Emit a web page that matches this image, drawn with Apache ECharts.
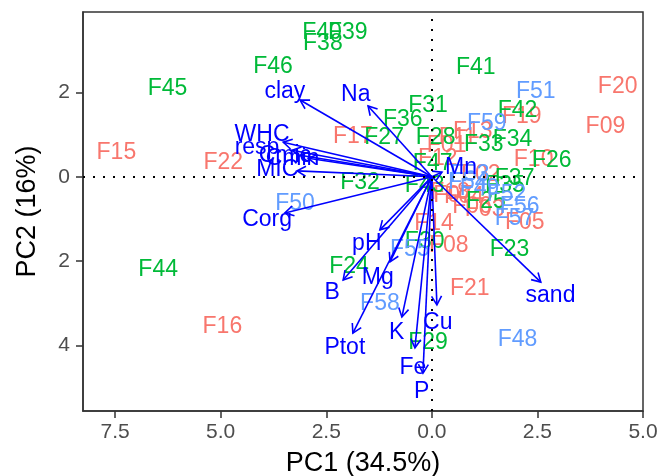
<!DOCTYPE html>
<html>
<head>
<meta charset="utf-8">
<script src="https://cdn.jsdelivr.net/npm/echarts@6/dist/echarts.min.js"></script>
<style>
  html, body { margin: 0; padding: 0; background: #fff; }
  #chart { width: 672px; height: 476px; }
</style>
</head>
<body>
<div id="chart"></div>
<script>
// sample scores (PC1, PC2), one group per colour
var redNames = ['F20','F09','F15','F22','F17','F19','F16','F21','F14','F08','F11','F01','F13','F10','F12','F02','F04','F06','F03','F05','F07','F18'];
var redX = [4.40, 4.11, -7.47, -4.94, -1.87, 2.13, -4.96, 0.90, 0.05, 0.40, 0.61, 0.35, 0.97, 2.41, 0.14, 1.16, 0.76, 0.95, 1.25, 2.20, 0.50, 0.43];
var redY = [2.13, 1.20, 0.56, 0.33, 0.94, 1.42, -3.57, -2.66, -1.12, -1.64, 0.92, 0.73, 1.06, 0.40, 0.42, 0.06, -0.48, -0.70, -0.77, -1.10, -0.44, -0.37];

var greenNames = ['F45','F40','F38','F39','F46','F41','F31','F36','F27','F28','F42','F34','F33','F26','F37','F32','F24','F23','F29','F30','F47','F43','F35','F25','F44'];
var greenX = [-6.26, -2.60, -2.58, -1.99, -3.76, 1.04, -0.09, -0.69, -1.13, 0.09, 2.03, 1.91, 1.23, 2.84, 1.96, -1.70, -1.96, 1.84, -0.09, -0.17, 0.02, -0.17, 1.73, 1.28, -6.48];
var greenY = [2.08, 3.41, 3.17, 3.43, 2.62, 2.60, 1.68, 1.35, 0.92, 0.92, 1.56, 0.87, 0.75, 0.37, -0.05, -0.15, -2.14, -1.72, -3.94, -1.53, 0.30, -0.22, -0.20, -0.58, -2.21];

var blueNames = ['F51','F59','F50','F55','F58','F48','F56','F57','F52','F53','F54','F49'];
var blueX = [2.46, 1.30, -3.24, -0.52, -1.23, 2.03, 2.08, 1.96, 1.77, 0.90, 0.85, 1.13];
var blueY = [2.03, 1.25, -0.65, -1.72, -3.02, -3.87, -0.72, -1.00, -0.42, 0.04, -0.15, -0.29];

// variable loadings: arrow tips and label positions
var varNames = ['clay','Na','WHC','resp','Cmic','Cmin','MIC','Corg','pH','B','Mg','Ptot','K','Fe','P','Cu','sand','Mn'];
var varTipX = [-3.12, -1.51, -3.52, -3.31, -3.12, -2.93, -3.19, -3.48, -1.23, -2.10, -0.99, -1.87, -0.71, -0.40, -0.21, 0.12, 2.58, 0.24];
var varTipY = [1.82, 1.68, 0.82, 0.63, 0.51, 0.44, 0.14, -0.86, -1.26, -2.45, -2.02, -3.71, -3.33, -4.06, -4.66, -3.04, -2.50, 0.11];
var varLabX = [-3.48, -1.80, -4.02, -4.14, -3.48, -3.30, -3.66, -3.90, -1.54, -2.36, -1.28, -2.06, -0.83, -0.45, -0.24, 0.14, 2.81, 0.69];
var varLabY = [2.01, 1.96, 0.99, 0.68, 0.51, 0.42, 0.16, -1.03, -1.58, -2.76, -2.40, -4.06, -3.71, -4.52, -5.11, -3.47, -2.83, 0.21];

var xTicks = [-7.5, -5, -2.5, 0, 2.5, 5];
var xTickText = ['7.5', '5.0', '2.5', '0.0', '2.5', '5.0'];
var yTicks = [2, 0, -2, -4];
var yTickText = ['2', '0', '2', '4'];

function pick(ticks, texts, v) {
  for (var i = 0; i < ticks.length; i++) {
    if (Math.abs(ticks[i] - v) < 1e-6) return texts[i];
  }
  return '';
}

function pts(names, xs, ys) {
  return names.map(function (n, i) { return [xs[i], ys[i], n]; });
}

function textSeries(data, color, z) {
  return {
    type: 'scatter',
    data: data,
    symbolSize: 1,
    itemStyle: { color: 'rgba(0,0,0,0)', opacity: 1 },
    z: z,
    silent: true,
    label: {
      show: true,
      position: 'inside',
      formatter: function (p) { return p.data[2]; },
      color: color,
      opacity: 1,
      fontSize: 23,
      fontFamily: 'Liberation Sans, Arial, sans-serif'
    }
  };
}

var myChart = echarts.init(document.getElementById('chart'));

var option = {
  animation: false,
  backgroundColor: '#fff',
  grid: {
    left: 83, right: 29, top: 12, bottom: 65,
    outerBoundsMode: 'none',
    containLabel: false,
    show: true, borderColor: '#333', borderWidth: 1.5
  },
  xAxis: {
    type: 'value',
    min: -8.26, max: 5.0,
    name: 'PC1 (34.5%)',
    nameLocation: 'middle',
    nameGap: 39,
    nameTextStyle: { color: '#000', fontSize: 27, fontFamily: 'Liberation Sans, Arial, sans-serif' },
    axisLine: { show: true, onZero: false, lineStyle: { color: '#333', width: 1.5 } },
    axisTick: { show: true, length: 7, customValues: xTicks, lineStyle: { color: '#333', width: 1.5 } },
    axisLabel: {
      customValues: xTicks, margin: 11, color: '#4D4D4D', fontSize: 21,
      fontFamily: 'Liberation Sans, Arial, sans-serif',
      formatter: function (v) { return pick(xTicks, xTickText, v); }
    },
    splitLine: { show: false }
  },
  yAxis: {
    type: 'value',
    min: -5.56, max: 3.91,
    name: 'PC2 (16%)',
    nameLocation: 'middle',
    nameGap: 42,
    nameRotate: 90,
    nameTextStyle: { color: '#000', fontSize: 27, fontFamily: 'Liberation Sans, Arial, sans-serif' },
    axisLine: { show: true, onZero: false, lineStyle: { color: '#333', width: 1.5 } },
    axisTick: { show: true, length: 7, customValues: yTicks, lineStyle: { color: '#333', width: 1.5 } },
    axisLabel: {
      customValues: yTicks, margin: 13, color: '#4D4D4D', fontSize: 21,
      fontFamily: 'Liberation Sans, Arial, sans-serif',
      formatter: function (v) { return pick(yTicks, yTickText, v); }
    },
    splitLine: { show: false }
  },
  series: [
    {
      // dotted zero lines
      type: 'line',
      data: [],
      z: 1,
      markLine: {
        silent: true,
        symbol: ['none', 'none'],
        label: { show: false },
        lineStyle: { color: '#000', width: 2, type: [2, 8], opacity: 1 },
        data: [{ xAxis: 0 }, { yAxis: 0 }]
      }
    },
    textSeries(pts(redNames, redX, redY), '#F8766D', 2),
    textSeries(pts(greenNames, greenX, greenY), '#00BA38', 2),
    textSeries(pts(blueNames, blueX, blueY), '#619CFF', 2),
    {
      type: 'custom',
      z: 3,
      silent: true,
      data: varNames.map(function (n, i) { return [varTipX[i], varTipY[i]]; }),
      renderItem: function (params, api) {
        var p0 = api.coord([0, 0]);
        var p1 = api.coord([api.value(0), api.value(1)]);
        var ang = Math.atan2(p1[1] - p0[1], p1[0] - p0[0]);
        var L = 10, a = Math.PI / 6;
        var h1 = [p1[0] - L * Math.cos(ang - a), p1[1] - L * Math.sin(ang - a)];
        var h2 = [p1[0] - L * Math.cos(ang + a), p1[1] - L * Math.sin(ang + a)];
        var st = { stroke: '#0000FF', lineWidth: 1.6, fill: null };
        return {
          type: 'group',
          children: [
            { type: 'line', shape: { x1: p0[0], y1: p0[1], x2: p1[0], y2: p1[1] }, style: st },
            { type: 'polyline', shape: { points: [h1, p1, h2] }, style: st }
          ]
        };
      }
    },
    textSeries(pts(varNames, varLabX, varLabY), '#0000FF', 4)
  ]
};

myChart.setOption(option);
</script>
</body>
</html>
